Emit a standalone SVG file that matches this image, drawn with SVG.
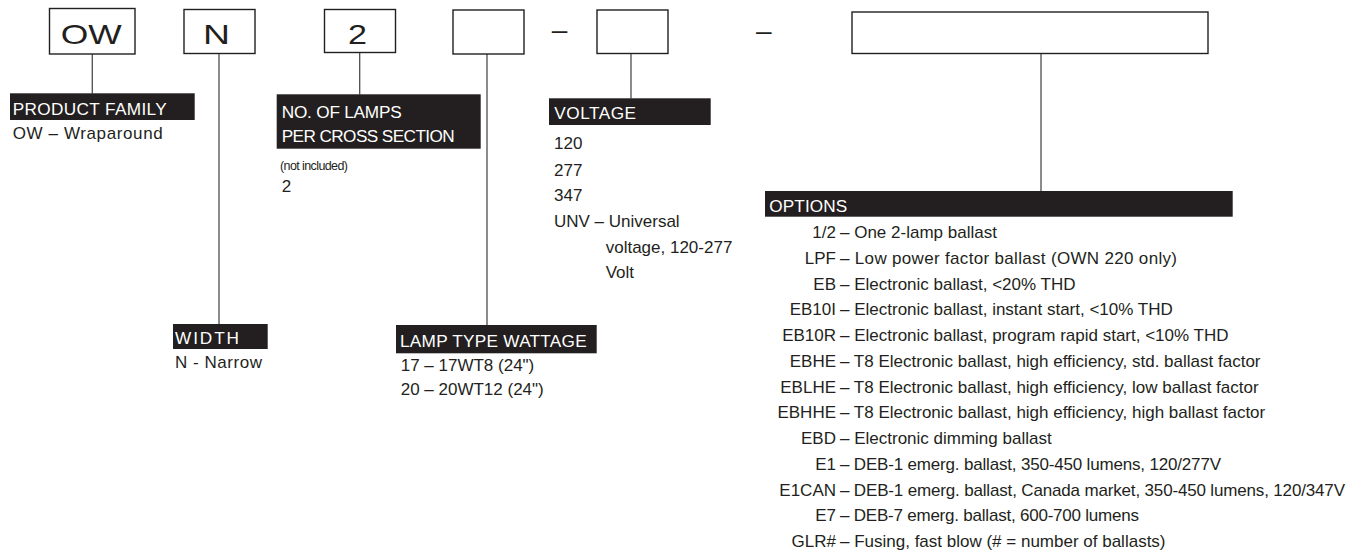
<svg xmlns="http://www.w3.org/2000/svg" width="1361" height="553" viewBox="0 0 1361 553">
<style>
.box{fill:#fff;stroke:#231f20;stroke-width:1.4}
.big{font-family:"Liberation Sans",Arial,sans-serif;font-size:28px;fill:#231f20}
.bar{fill:#231f20}
.hd{font-family:"Liberation Sans",Arial,sans-serif;font-size:17.2px;fill:#fff}
.tx{font-family:"Liberation Sans",Arial,sans-serif;font-size:17px;fill:#231f20}
.sm{font-family:"Liberation Sans",Arial,sans-serif;font-size:12.5px;fill:#231f20}
.code{font-family:"Liberation Sans",Arial,sans-serif;font-size:17px;fill:#231f20;text-anchor:end}
.con{stroke:#4d4d4d;stroke-width:1.3;fill:none}
</style>
<rect width="1361" height="553" fill="#fff"/>
<g id="connectors">
<line class="con" x1="92.3" y1="54" x2="92.3" y2="93.5"/>
<line class="con" x1="219" y1="53.5" x2="219" y2="324"/>
<line class="con" x1="359.7" y1="53" x2="359.7" y2="94.5"/>
<line class="con" x1="487" y1="54" x2="487" y2="325"/>
<line class="con" x1="631" y1="53.5" x2="631" y2="98.5"/>
<line class="con" x1="1041" y1="53.5" x2="1041" y2="191"/>
</g>
<g id="box-ow">
<rect class="box" x="49.5" y="8.5" width="85.5" height="45.5"/>
<text class="big" x="60.7" y="44" textLength="61" lengthAdjust="spacingAndGlyphs">OW</text>
</g>
<g id="box-n">
<rect class="box" x="184" y="9.5" width="71" height="44"/>
<text class="big" x="203" y="44" textLength="27" lengthAdjust="spacingAndGlyphs">N</text>
</g>
<g id="box-2">
<rect class="box" x="324.5" y="9.5" width="71" height="43"/>
<text class="big" x="348" y="44" textLength="19" lengthAdjust="spacingAndGlyphs">2</text>
</g>
<g id="box-lamp">
<rect class="box" x="453" y="10" width="71" height="44"/>
</g>
<g id="dash-1"><text class="big" x="551.7" y="39">–</text></g>
<g id="box-voltage">
<rect class="box" x="597" y="10" width="71" height="43.5"/>
</g>
<g id="dash-2"><text class="big" x="756" y="39.5">–</text></g>
<g id="box-options">
<rect class="box" x="852" y="12" width="356" height="41.5"/>
</g>
<g id="product-family">
<rect class="bar" x="10" y="93.3" width="184.7" height="26.7"/>
<text class="hd" x="12.7" y="115" textLength="154">PRODUCT FAMILY</text>
<text class="tx" x="12.7" y="139.3" textLength="150">OW – Wraparound</text>
</g>
<g id="lamps">
<rect class="bar" x="276.7" y="94.3" width="204" height="54.4"/>
<text class="hd" x="281.7" y="118.3" textLength="120">NO. OF LAMPS</text>
<text class="hd" x="281.7" y="141.7" textLength="173">PER CROSS SECTION</text>
<text class="sm" x="280" y="170" textLength="68">(not included)</text>
<text class="tx" x="281.7" y="191.5">2</text>
</g>
<g id="voltage">
<rect class="bar" x="549" y="98.3" width="161.7" height="26.7"/>
<text class="hd" x="554.3" y="119" textLength="81.7">VOLTAGE</text>
<text class="tx" x="554" y="149">120</text>
<text class="tx" x="554" y="175.7">277</text>
<text class="tx" x="554" y="201.2">347</text>
<text class="tx" x="554" y="227.2">UNV – Universal</text>
<text class="tx" x="605.7" y="252.7">voltage, 120-277</text>
<text class="tx" x="605.7" y="278.3">Volt</text>
</g>
<g id="width">
<rect class="bar" x="173" y="324" width="94.7" height="25"/>
<text class="hd" x="175" y="344" textLength="64">WIDTH</text>
<text class="tx" x="175" y="367.5" textLength="87">N - Narrow</text>
</g>
<g id="lamp-type">
<rect class="bar" x="396" y="325" width="200.7" height="28.3"/>
<text class="hd" x="400" y="346.7" textLength="186.7">LAMP TYPE WATTAGE</text>
<text class="tx" x="400.7" y="371">17 – 17WT8 (24")</text>
<text class="tx" x="400.7" y="395">20 – 20WT12 (24")</text>
</g>
<g id="options">
<rect class="bar" x="765" y="191" width="467.7" height="25.7"/>
<text class="hd" x="769.3" y="211.7" textLength="78">OPTIONS</text>
<text class="code" x="836" y="238">1/2</text><text class="tx" x="840" y="238">– One 2-lamp ballast</text>
<text class="code" x="836" y="263.75">LPF</text><text class="tx" x="840" y="263.75" textLength="337">– Low power factor ballast (OWN 220 only)</text>
<text class="code" x="836" y="289.5">EB</text><text class="tx" x="840" y="289.5">– Electronic ballast, &lt;20% THD</text>
<text class="code" x="836" y="315.25">EB10I</text><text class="tx" x="840" y="315.25">– Electronic ballast, instant start, &lt;10% THD</text>
<text class="code" x="836" y="341">EB10R</text><text class="tx" x="840" y="341">– Electronic ballast, program rapid start, &lt;10% THD</text>
<text class="code" x="836" y="366.75">EBHE</text><text class="tx" x="840" y="366.75">– T8 Electronic ballast, high efficiency, std. ballast factor</text>
<text class="code" x="836" y="392.5">EBLHE</text><text class="tx" x="840" y="392.5">– T8 Electronic ballast, high efficiency, low ballast factor</text>
<text class="code" x="836" y="418.25">EBHHE</text><text class="tx" x="840" y="418.25">– T8 Electronic ballast, high efficiency, high ballast factor</text>
<text class="code" x="836" y="444">EBD</text><text class="tx" x="840" y="444">– Electronic dimming ballast</text>
<text class="code" x="836" y="469.75">E1</text><text class="tx" x="840" y="469.75" textLength="381">– DEB-1 emerg. ballast, 350-450 lumens, 120/277V</text>
<text class="code" x="836" y="495.5">E1CAN</text><text class="tx" x="840" y="495.5" textLength="505">– DEB-1 emerg. ballast, Canada market, 350-450 lumens, 120/347V</text>
<text class="code" x="836" y="521.25">E7</text><text class="tx" x="840" y="521.25" textLength="299">– DEB-7 emerg. ballast, 600-700 lumens</text>
<text class="code" x="836" y="547">GLR#</text><text class="tx" x="840" y="547">– Fusing, fast blow (# = number of ballasts)</text>
</g>
</svg>
